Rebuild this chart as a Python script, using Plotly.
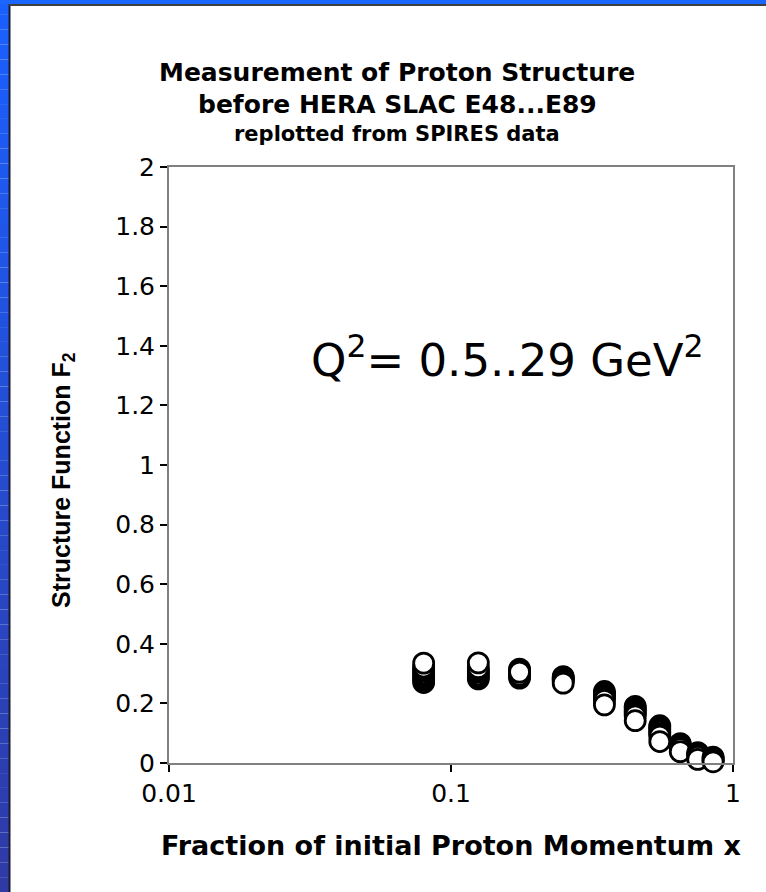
import plotly.graph_objects as go

# SLAC E48...E89 proton F2 measurements, grouped by Bjorken-x bin
x_bins = [0.08, 0.125, 0.175, 0.25, 0.35, 0.45, 0.55, 0.65, 0.75, 0.85]
f2_by_bin = [
    [0.270, 0.278, 0.285, 0.292, 0.300, 0.308, 0.315, 0.322, 0.335],
    [0.282, 0.290, 0.296, 0.305, 0.312, 0.320, 0.336],
    [0.285, 0.290, 0.295, 0.315, 0.310, 0.305],
    [0.290, 0.287, 0.283, 0.280, 0.276, 0.268],
    [0.240, 0.235, 0.230, 0.225, 0.218, 0.210, 0.195],
    [0.190, 0.185, 0.178, 0.172, 0.165, 0.158, 0.142],
    [0.125, 0.120, 0.113, 0.106, 0.098, 0.090, 0.072],
    [0.065, 0.062, 0.058, 0.053, 0.048, 0.038],
    [0.035, 0.031, 0.027, 0.022, 0.012],
    [0.020, 0.016, 0.012, 0.008, 0.004],
]

y_ticks = [0, 0.2, 0.4, 0.6, 0.8, 1.0, 1.2, 1.4, 1.6, 1.8, 2.0]
y_tick_text = ["0", "0.2", "0.4", "0.6", "0.8", "1", "1.2", "1.4", "1.6", "1.8", "2"]
x_ticks = [0.01, 0.1, 1]
x_tick_text = ["0.01", "0.1", "1"]

title_lines = ["Measurement of Proton Structure", "before HERA SLAC E48...E89"]
subtitle = "replotted from SPIRES data"
q2_label = "Q<sup>2</sup>= 0.5..29 GeV<sup>2</sup>"
x_title = "Fraction of initial Proton Momentum x"
y_title = "Structure Function F<sub>2</sub>"

W, H = 766, 892

xs, ys = [], []
for xb, vals in zip(x_bins, f2_by_bin):
    for v in vals:
        xs.append(xb)
        ys.append(v)

fig = go.Figure()
fig.add_trace(go.Scatter(
    x=xs, y=ys, mode="markers",
    marker=dict(symbol="circle", size=20, color="white",
                line=dict(color="black", width=2.8)),
    showlegend=False, hoverinfo="skip", cliponaxis=False,
))

# plot box in page pixels
L, R, T, B = 169, 733, 167, 763


def px(x):
    return x / W


def py(y):
    return 1 - y / H


axis_font = dict(family="DejaVu Sans", size=25, color="black")

fig.update_layout(
    template="none",
    width=W, height=H,
    margin=dict(l=0, r=0, t=0, b=0, pad=0, autoexpand=False),
    paper_bgcolor="white", plot_bgcolor="white",
    xaxis=dict(
        type="log", range=[-2, 0], domain=[px(L), px(R)], automargin=False,
        tickvals=x_ticks, ticktext=x_tick_text, tickfont=axis_font,
        ticks="outside", ticklen=7, tickwidth=1.5, tickcolor="black",
        showline=True, linecolor="#808080", linewidth=2, mirror=True,
        showgrid=False, zeroline=False,
    ),
    yaxis=dict(
        range=[0, 2], domain=[py(B), py(T)], automargin=False,
        tickvals=y_ticks, ticktext=y_tick_text, tickfont=axis_font,
        ticks="outside", ticklen=7, tickwidth=1.5, tickcolor="black",
        showline=True, linecolor="#808080", linewidth=2, mirror=True,
        showgrid=False, zeroline=False,
    ),
)

# blue slide frame: gradient strip on the left, bright strip on top
shapes = []
n_bands = 60
top_rgb = (26, 96, 255)
bot_rgb = (47, 58, 165)
for i in range(n_bands):
    t = i / (n_bands - 1)
    c = tuple(round(a + (b - a) * t) for a, b in zip(top_rgb, bot_rgb))
    shapes.append(dict(
        type="rect", xref="paper", yref="paper", layer="above",
        x0=0, x1=px(9), y0=1 - (i + 1) / n_bands, y1=1 - i / n_bands,
        line=dict(width=0), fillcolor="rgb(%d,%d,%d)" % c,
    ))
shapes.append(dict(type="rect", xref="paper", yref="paper", layer="above",
                   x0=0, x1=1, y0=py(4.5), y1=1,
                   line=dict(width=0), fillcolor="rgb(26,102,255)"))
shapes.append(dict(type="line", xref="paper", yref="paper", layer="above",
                   x0=px(9.5), x1=px(9.5), y0=0, y1=py(4),
                   line=dict(color="#1a1a33", width=2)))
shapes.append(dict(type="line", xref="paper", yref="paper", layer="above",
                   x0=px(9), x1=1, y0=py(5), y1=py(5),
                   line=dict(color="#404040", width=2)))
fig.update_layout(shapes=shapes)

title_font = dict(family="DejaVu Sans", size=25, color="black")
ann = [
    dict(text="<b>%s</b>" % title_lines[0], x=px(397), y=py(72),
         font=title_font),
    dict(text="<b>%s</b>" % title_lines[1], x=px(397), y=py(104),
         font=title_font),
    dict(text="<b>%s</b>" % subtitle, x=px(397), y=py(134),
         font=dict(family="DejaVu Sans", size=21, color="black")),
    dict(text=q2_label, x=px(507), y=py(358),
         font=dict(family="DejaVu Sans", size=45, color="black")),
    dict(text="<b>%s</b>" % x_title, x=px(451), y=py(845),
         font=dict(family="DejaVu Sans", size=27, color="black")),
    dict(text="<b>%s</b>" % y_title, x=px(63), y=py(480), textangle=-90,
         font=dict(family="Liberation Sans", size=25, color="black")),
]
for a in ann:
    a.update(xref="paper", yref="paper", showarrow=False,
             xanchor="center", yanchor="middle")
fig.update_layout(annotations=ann)

fig.write_html("out.html")
